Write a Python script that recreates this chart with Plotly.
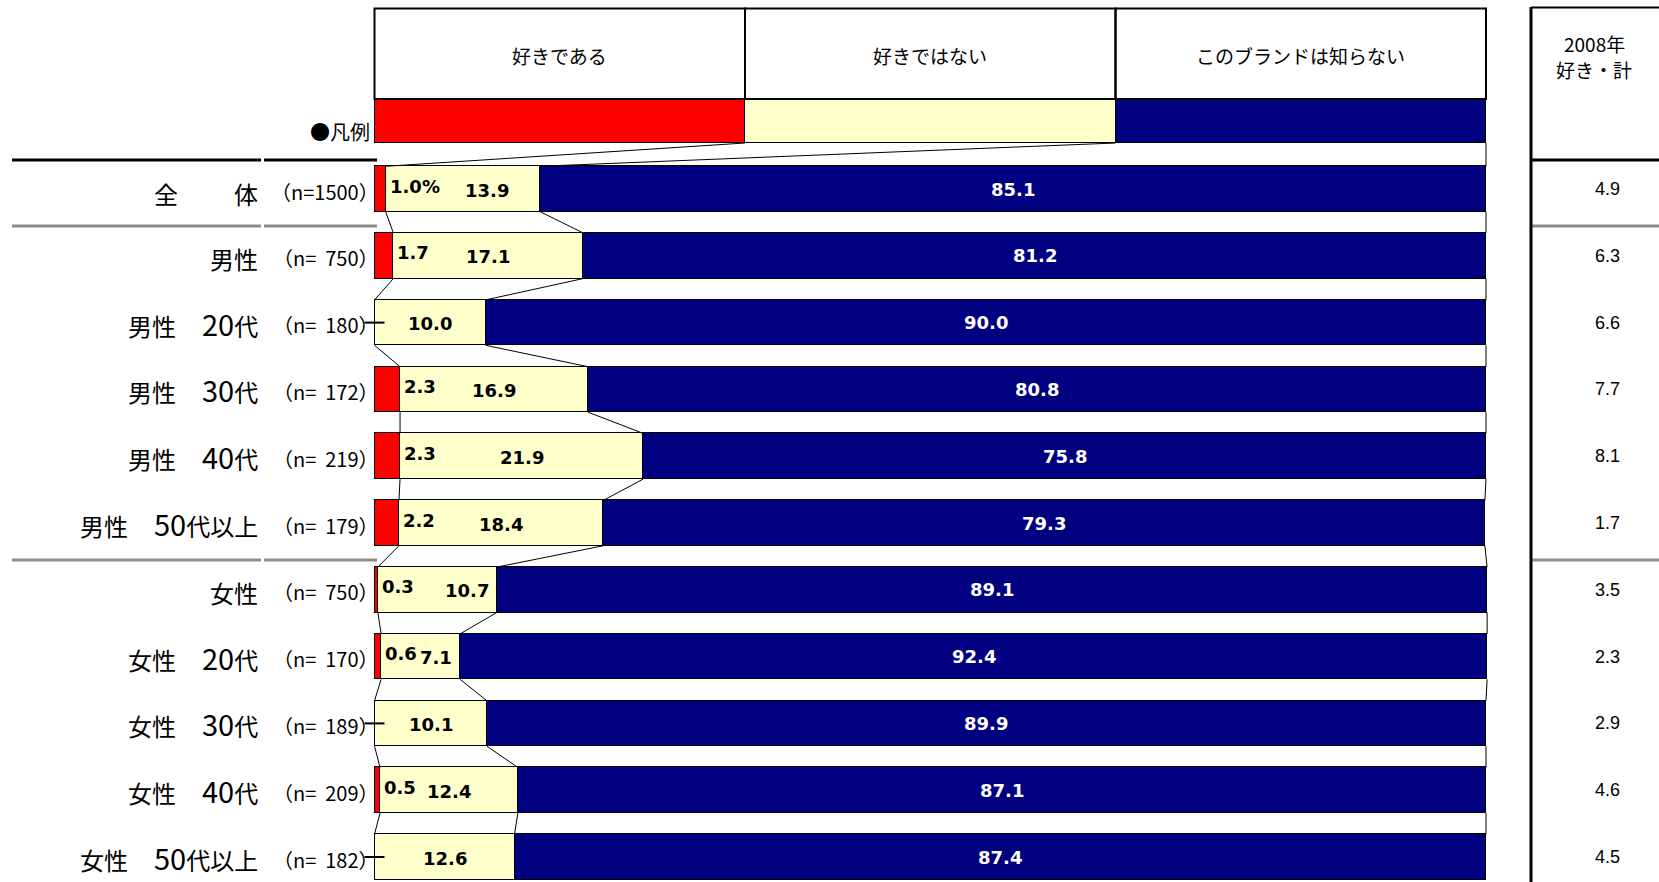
import plotly.graph_objects as go

# ---- data -------------------------------------------------------------
categories = ["全体", "男性", "男性 20代", "男性 30代", "男性 40代", "男性 50代以上",
              "女性", "女性 20代", "女性 30代", "女性 40代", "女性 50代以上"]
sample_sizes = [1500, 750, 180, 172, 219, 179, 750, 170, 189, 209, 182]
like = [1.0, 1.7, 0.0, 2.3, 2.3, 2.2, 0.3, 0.6, 0.0, 0.5, 0.0]
dislike = [13.9, 17.1, 10.0, 16.9, 21.9, 18.4, 10.7, 7.1, 10.1, 12.4, 12.6]
unknown = [85.1, 81.2, 90.0, 80.8, 75.8, 79.3, 89.1, 92.4, 89.9, 87.1, 87.4]
like_2008 = [4.9, 6.3, 6.6, 7.7, 8.1, 1.7, 3.5, 2.3, 2.9, 4.6, 4.5]
series_names = ["好きである", "好きではない", "このブランドは知らない"]
prev_header = ["2008年", "好き・計"]

# ---- styling ----------------------------------------------------------
W, H = 1659, 882
COLORS = ["#FF0000", "#FFFFCC", "#000080"]
JP = "Noto Sans CJK JP"
NUM = "DejaVu Sans"
BAR_H = 0.68
X0_PX, X100_PX = 374.5, 1486.0
ROW0_PX, ROW_PX = 189.0, 66.8
PXU = (X100_PX - X0_PX) / 100.0


def xd(px):
    return (px - X0_PX) / PXU


def yd(py):
    return (py - ROW0_PX) / ROW_PX


def xp(px):
    return px / W


def yp(py):
    return 1 - py / H


def row_label(name):
    """Spread the group name and the age band like a typeset table row."""
    if " " not in name:
        if name == "全体":
            return name[0] + '<span style="font-size:28px">　　</span>' + name[1]
        return name
    head, tail = name.split(" ", 1)
    digits = "".join(c for c in tail if c.isdigit())
    rest = tail[len(digits):]
    return (head + '<span style="font-size:26px">　</span>'
            + f'<span style="font-size:29px">{digits}</span>' + rest)


rows = list(range(len(categories)))
legend_y = yd(121)
legend_h = 44 / ROW_PX

fig = go.Figure()

# stacked bars
for vals, color, name in zip([like, dislike, unknown], COLORS, series_names):
    fig.add_trace(go.Bar(
        y=rows, x=vals, orientation="h", width=BAR_H, name=name,
        marker=dict(color=color, line=dict(color="#000000", width=1.3)),
        showlegend=False, hoverinfo="skip"))

# legend strip (one equal third per series)
for color, name in zip(COLORS, series_names):
    fig.add_trace(go.Bar(
        y=[legend_y], x=[100 / 3], orientation="h", width=legend_h, name=name,
        marker=dict(color=color, line=dict(color="#000000", width=1.3)),
        showlegend=False, hoverinfo="skip"))

shapes = []
annotations = []

# header boxes above the legend strip
top, bot = yd(8.5), yd(99)
for k, name in enumerate(series_names):
    x_a, x_b = k * 100 / 3, (k + 1) * 100 / 3
    shapes.append(dict(type="rect", xref="x", yref="y", x0=x_a, x1=x_b, y0=top, y1=bot,
                       line=dict(color="#000000", width=2)))
    annotations.append(dict(xref="x", yref="y", x=(x_a + x_b) / 2, y=yd(55), text=name,
                            showarrow=False, font=dict(family=JP, size=19, color="#000000")))
annotations.append(dict(xref="paper", yref="paper", x=xp(372), y=yp(132), text="●凡例",
                        xanchor="right", yanchor="middle", showarrow=False,
                        font=dict(family=JP, size=20, color="#000000")))

# series lines linking the segment ends of neighbouring bars
ends = [[l, l + d, l + d + u] for l, d, u in zip(like, dislike, unknown)]
legend_ends = [100 / 3, 200 / 3, 100.0]
line_style = dict(color="#000000", width=1)
for k in range(3):
    shapes.append(dict(type="line", xref="x", yref="y",
                       x0=legend_ends[k], y0=legend_y + legend_h / 2,
                       x1=ends[0][k], y1=0 - BAR_H / 2, line=line_style))
    for i in rows[:-1]:
        shapes.append(dict(type="line", xref="x", yref="y",
                           x0=ends[i][k], y0=i + BAR_H / 2,
                           x1=ends[i + 1][k], y1=i + 1 - BAR_H / 2, line=line_style))

# value labels
label_font = dict(family=NUM, size=18, color="#000000")
yellow_nudge_px = {0: 24, 6: 30, 7: 15}
for i in rows:
    l, d, u = like[i], dislike[i], unknown[i]
    if l > 0:
        txt = f"{l:.1f}%" if i == 0 else f"{l:.1f}"
        annotations.append(dict(xref="x", yref="y", x=l + xd(X0_PX + 2), y=i, yshift=3,
                                text=f"<b>{txt}</b>", xanchor="left", showarrow=False,
                                font=label_font))
    else:
        # leader tick for a zero share
        shapes.append(dict(type="line", xref="x", yref="y", x0=xd(X0_PX - 10), x1=xd(X0_PX + 10),
                           y0=i, y1=i, line=dict(color="#000000", width=2)))
    mid = l + d / 2 + yellow_nudge_px.get(i, 0) / PXU
    annotations.append(dict(xref="x", yref="y", x=mid, y=i, yshift=-1,
                            text=f"<b>{d:.1f}</b>", showarrow=False, font=label_font))
    annotations.append(dict(xref="x", yref="y", x=l + d + u / 2, y=i,
                            text=f"<b>{u:.1f}</b>", showarrow=False,
                            font=dict(family=NUM, size=18, color="#FFFFFF")))

# row labels, sample sizes and the 2008 column
for i, (cat, n) in enumerate(zip(categories, sample_sizes)):
    annotations.append(dict(xref="paper", yref="y", x=xp(260), y=i,
                            yshift=0 if " " in cat else -3,
                            text=row_label(cat), xanchor="right", yanchor="middle",
                            showarrow=False, font=dict(family=JP, size=24, color="#000000")))
    n_txt = f"（n={n:>4}）".replace(" ", "  ")
    annotations.append(dict(xref="paper", yref="y", x=xp(381), y=i, yshift=-2, text=n_txt,
                            xanchor="right", yanchor="middle", showarrow=False,
                            font=dict(family=JP, size=20, color="#000000")))
    annotations.append(dict(xref="paper", yref="y", x=xp(1607), y=i, text=f"{like_2008[i]:.1f}",
                            xanchor="center", yanchor="middle", showarrow=False,
                            font=dict(family="Liberation Sans", size=18, color="#000000")))

# 2008 column header
for txt, py in zip(prev_header, (43, 70)):
    annotations.append(dict(xref="paper", yref="paper", x=xp(1594), y=yp(py), text=txt,
                            xanchor="center", yanchor="middle", showarrow=False,
                            font=dict(family=JP, size=19, color="#000000")))

# table rules: left block and right column
thick = dict(color="#000000", width=3)
gray = dict(color="#8C8C8C", width=3)
rule_top = yd(160)
for x_a, x_b in [(12, 261), (264, 377)]:
    shapes.append(dict(type="line", xref="paper", yref="y", x0=xp(x_a), x1=xp(x_b),
                       y0=rule_top, y1=rule_top, line=thick))
    for y_sep in (0.5, 5.5):
        shapes.append(dict(type="line", xref="paper", yref="y", x0=xp(x_a), x1=xp(x_b),
                           y0=y_sep + 0.055, y1=y_sep + 0.055, line=gray))
shapes.append(dict(type="line", xref="paper", yref="y", x0=xp(1531), x1=1,
                   y0=rule_top, y1=rule_top, line=thick))
for y_sep in (0.5, 5.5):
    shapes.append(dict(type="line", xref="paper", yref="y", x0=xp(1531), x1=1,
                       y0=y_sep + 0.055, y1=y_sep + 0.055, line=gray))
shapes.append(dict(type="line", xref="paper", yref="paper", x0=xp(1531), x1=xp(1531),
                   y0=0, y1=yp(7), line=thick))
shapes.append(dict(type="line", xref="paper", yref="paper", x0=xp(1531), x1=1,
                   y0=yp(7.5), y1=yp(7.5), line=dict(color="#000000", width=2)))

fig.update_layout(
    width=W, height=H, barmode="stack", bargap=0,
    margin=dict(l=0, r=0, t=0, b=0),
    paper_bgcolor="#FFFFFF", plot_bgcolor="#FFFFFF",
    xaxis=dict(range=[xd(0), xd(W)], domain=[0, 1], visible=False, fixedrange=True),
    yaxis=dict(range=[yd(H), yd(0)], domain=[0, 1], visible=False, fixedrange=True),
    shapes=shapes, annotations=annotations, showlegend=False,
)

fig.write_html("out.html")
